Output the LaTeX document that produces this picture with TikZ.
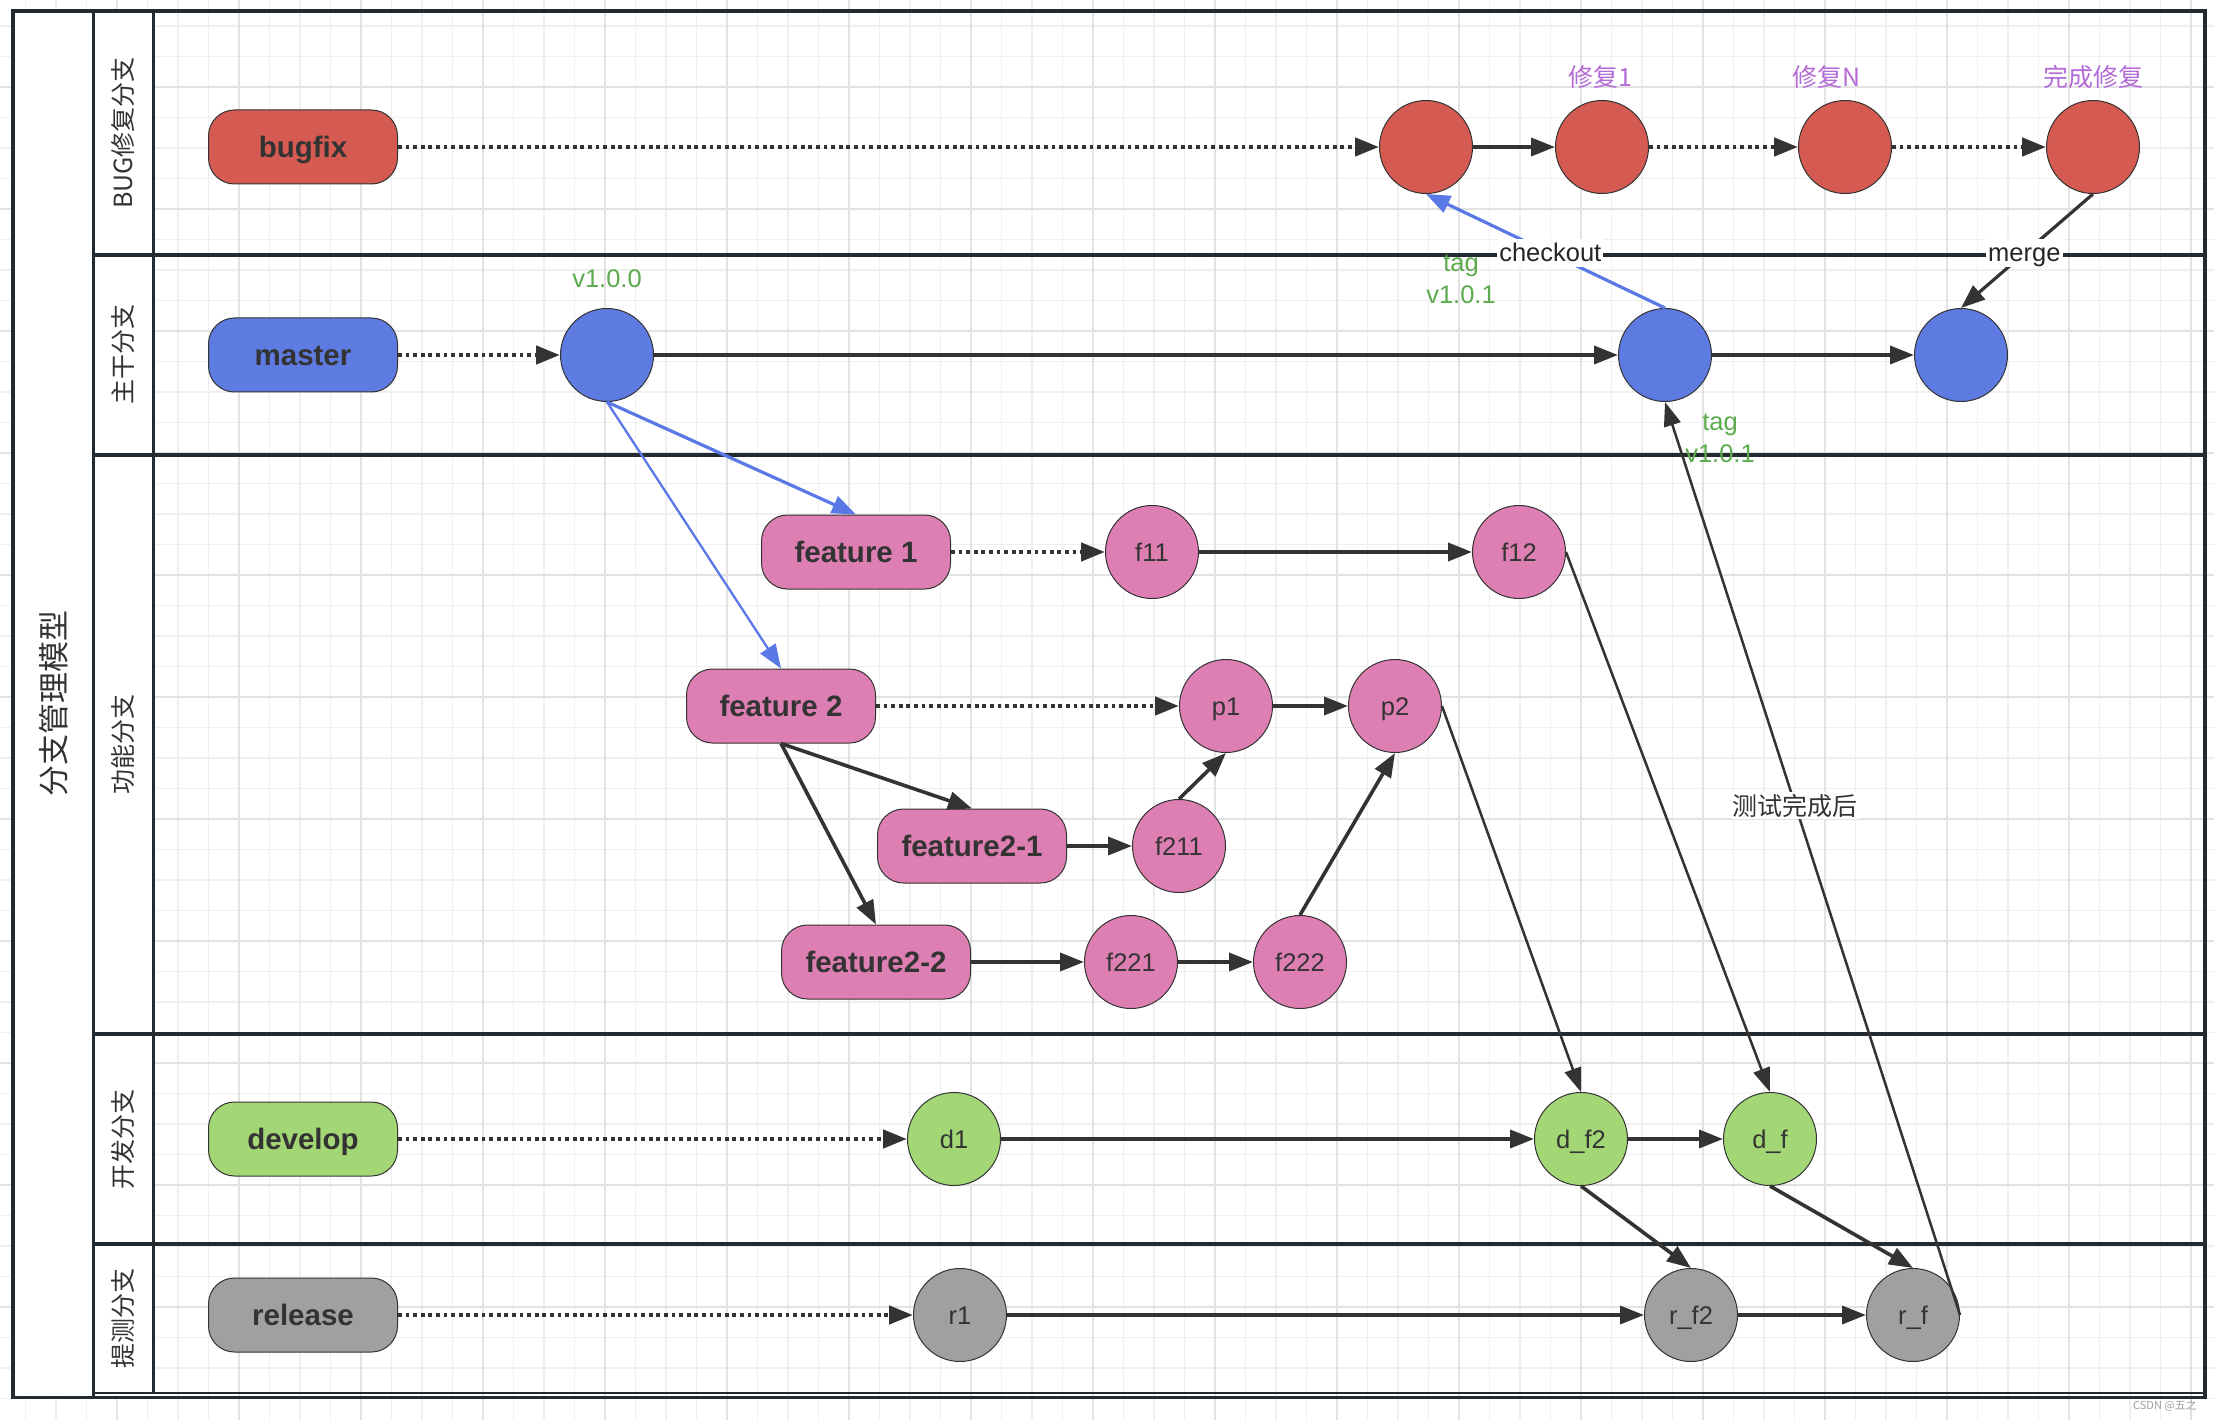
\documentclass[tikz,border=0pt]{standalone}
\usepackage{fontspec}
\setmainfont{Liberation Sans}
\newfontfamily\cjk{Noto Sans CJK SC}
\usetikzlibrary{arrows.meta}
\definecolor{frame}{HTML}{232A30}
\definecolor{txt}{HTML}{333333}
\definecolor{bugred}{HTML}{D55A52}
\definecolor{masblue}{HTML}{5D7BE0}
\definecolor{featpink}{HTML}{DD7FB2}
\definecolor{devgreen}{HTML}{A3D776}
\definecolor{relgray}{HTML}{A0A0A0}
\definecolor{linkblue}{HTML}{5A78E6}
\definecolor{taggreen}{HTML}{5DAA4F}
\definecolor{fixpurple}{HTML}{B46BD8}
\definecolor{gridminor}{HTML}{EFEFEF}
\definecolor{gridmajor}{HTML}{E2E2E2}
\begin{document}
\begin{tikzpicture}[x=1pt,y=-1pt,
  branchbox/.style={draw=txt, line width=1pt, rounded corners=26pt, minimum width=189pt, minimum height=74pt, inner sep=0pt, text=txt, text height=24pt, text depth=3pt, font=\bfseries\fontsize{29.5}{34}\selectfont},
  commit/.style={circle, draw=txt, line width=1pt, minimum size=93pt, inner sep=0pt, text=txt, text height=21.2pt, text depth=2.6pt, font=\fontsize{25.5}{30}\selectfont},
  conn/.style={draw=txt, line width=3.6pt, -{Triangle[length=24pt,width=18pt]}},
  thinconn/.style={draw=txt, line width=2.5pt, -{Triangle[length=24pt,width=17pt]}},
  dotconn/.style={conn, line width=4.5pt, dash pattern=on 3.8pt off 3.8pt},
  blueconn/.style={draw=linkblue, line width=3.2pt, -{Triangle[length=24pt,width=18pt]}},
  lanetxt/.style={rotate=90, text=txt, font=\cjk\fontsize{25}{30}\selectfont},
  onlbl/.style={fill=white, inner sep=2pt, text=black!85, text height=20.4pt, text depth=3.4pt, font=\fontsize{25.5}{30}\selectfont},
  cjklbl/.style={fill=white, inner sep=2pt, text=txt, font=\cjk\fontsize{25}{30}\selectfont},
  taglbl/.style={text=taggreen, align=center, font=\fontsize{25.5}{32}\selectfont},
  fixlbl/.style={text=fixpurple, font=\cjk\fontsize{25}{30}\selectfont},
]
\useasboundingbox (0,0) rectangle (2214,1420);
% background grid
\begin{scope}
\clip (0,0) rectangle (2214,1420);
\fill[white] (0,0) rectangle (2214,1420);
\foreach \i in {0,...,73} \draw[gridminor, line width=1.6pt] ({-5+30.5*\i},0) -- ++(0,1420);
\foreach \j in {0,...,48} \draw[gridminor, line width=1.6pt] (0,{-35+30.5*\j}) -- ++(2214,0);
\foreach \i in {0,...,18} \draw[gridmajor, line width=2pt] ({-5+122*\i},0) -- ++(0,1420);
\foreach \j in {0,...,12} \draw[gridmajor, line width=2pt] (0,{-35+122*\j}) -- ++(2214,0);
\end{scope}
% pool and lanes
\fill[white] (13,11) rectangle (153,1397);
\draw[frame, line width=2pt] (93,1392.7) -- (2205,1392.7);
\draw[frame, line width=3.5pt] (13,11) rectangle (2205,1397.3);
\draw[frame, line width=3pt] (93,11) -- (93,1397);
\draw[frame, line width=3pt] (153,11) -- (153,1393);
\foreach \yy in {255,455,1034,1244} \draw[frame, line width=3.5pt] (93,\yy) -- (2205,\yy);
\node[rotate=90, text=txt, font=\cjk\fontsize{31}{36}\selectfont] (title) at (54,703) {分支管理模型};
\node[lanetxt] (lbug) at (123,133) {BUG修复分支};
\node[lanetxt] (lmas) at (123,355) {主干分支};
\node[lanetxt] (lfea) at (123,744) {功能分支};
\node[lanetxt] (ldev) at (123,1139) {开发分支};
\node[lanetxt] (lrel) at (123,1318) {提测分支};
% branch boxes
\node[branchbox, fill=bugred] (bug) at (303,147) {bugfix};
\node[branchbox, fill=masblue] (mas) at (303,355) {master};
\node[branchbox, fill=featpink] (fe1) at (856,552) {feature 1};
\node[branchbox, fill=featpink] (fe2) at (781,706) {feature 2};
\node[branchbox, fill=featpink] (fe21) at (972,846) {feature2-1};
\node[branchbox, fill=featpink] (fe22) at (876,962) {feature2-2};
\node[branchbox, fill=devgreen] (dev) at (303,1139) {develop};
\node[branchbox, fill=relgray] (rel) at (303,1315) {release};
% commits
\node[commit, fill=bugred] (b1) at (1426,147) {};
\node[commit, fill=bugred] (b2) at (1602,147) {};
\node[commit, fill=bugred] (b3) at (1845,147) {};
\node[commit, fill=bugred] (b4) at (2093,147) {};
\node[commit, fill=masblue] (m1) at (607,355) {};
\node[commit, fill=masblue] (m2) at (1665,355) {};
\node[commit, fill=masblue] (m3) at (1961,355) {};
\node[commit, fill=featpink] (f11) at (1152,552) {f11};
\node[commit, fill=featpink] (f12) at (1519,552) {f12};
\node[commit, fill=featpink] (p1) at (1226,706) {p1};
\node[commit, fill=featpink] (p2) at (1395,706) {p2};
\node[commit, fill=featpink] (f211) at (1179,846) {f211};
\node[commit, fill=featpink] (f221) at (1131,962) {f221};
\node[commit, fill=featpink] (f222) at (1300,962) {f222};
\node[commit, fill=devgreen] (d1) at (954,1139) {d1};
\node[commit, fill=devgreen] (df2) at (1581,1139) {d\_f2};
\node[commit, fill=devgreen] (df) at (1770,1139) {d\_f};
\node[commit, fill=relgray] (r1) at (960,1315) {r1};
\node[commit, fill=relgray] (rf2) at (1691,1315) {r\_f2};
\node[commit, fill=relgray] (rf) at (1913,1315) {r\_f};
% connectors
\draw[dotconn] (bug) -- (b1);
\draw[conn] (b1) -- (b2);
\draw[dotconn] (b2) -- (b3);
\draw[dotconn] (b3) -- (b4);
\draw[dotconn] (mas) -- (m1);
\draw[conn] (m1) -- (m2);
\draw[conn] (m2) -- (m3);
\draw[blueconn] (m2.north) -- node[onlbl, pos=0.48] (lchk) {checkout} (b1.south);
\draw[conn, line width=3.2pt] (b4.south) -- node[onlbl, pos=0.52] (lmrg) {merge} (m3.north);
\draw[blueconn] (m1.south) -- (fe1.north);
\draw[blueconn, line width=2.3pt] (m1.south) -- (fe2.north);
\draw[dotconn] (fe1) -- (f11);
\draw[conn] (f11) -- (f12);
\draw[dotconn] (fe2) -- (p1);
\draw[conn] (p1) -- (p2);
\draw[conn] (fe2.south) -- (fe21.north);
\draw[conn] (fe2.south) -- (fe22.north);
\draw[conn] (fe21) -- (f211);
\draw[conn] (f211.north) -- (p1.south);
\draw[conn] (fe22) -- (f221);
\draw[conn] (f221) -- (f222);
\draw[conn] (f222.north) -- (p2.south);
\draw[thinconn] (p2.east) -- (df2.north);
\draw[thinconn] (f12.east) -- (df.north);
\draw[dotconn] (dev) -- (d1);
\draw[conn] (d1) -- (df2);
\draw[conn] (df2) -- (df);
\draw[conn] (df2.south) -- (rf2.north);
\draw[conn] (df.south) -- (rf.north);
\draw[dotconn] (rel) -- (r1);
\draw[conn] (r1) -- (rf2);
\draw[conn] (rf2) -- (rf);
\draw[thinconn] (rf.east) -- node[cjklbl, pos=0.558] (ltest) {测试完成后} (m2.south);
% labels
\node[text=taggreen, font=\fontsize{25.5}{30}\selectfont] (tagv0) at (607,279) {v1.0.0};
\node[taglbl] (tag1) at (1461,279) {tag\\v1.0.1};
\node[taglbl] (tag2) at (1720,438) {tag\\v1.0.1};
\node[fixlbl] (lfix1) at (1600,77) {修复1};
\node[fixlbl] (lfixn) at (1827,77) {修复N};
\node[fixlbl] (lfixd) at (2093,77) {完成修复};
\node[text=gray!75, font=\cjk\fontsize{11}{13}\selectfont] (wm) at (2165,1406) {CSDN @五之};
\end{tikzpicture}
\end{document}
